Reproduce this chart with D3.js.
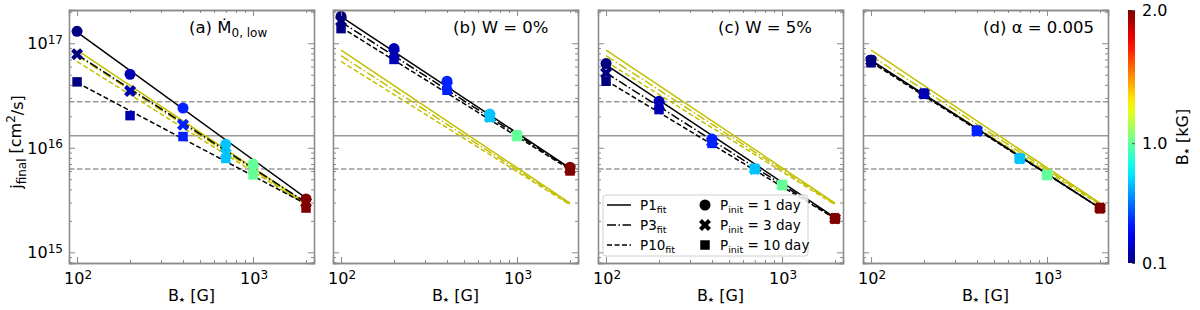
<!DOCTYPE html>
<html>
<head>
<meta charset="utf-8">
<script src="https://cdn.jsdelivr.net/npm/d3@7"></script>
<style>
  body { margin: 0; background: #fff; }
  text { font-family: "DejaVu Sans", sans-serif; fill: #000; }
</style>
</head>
<body>
<svg id="chart" width="1200" height="310"></svg>
<script>
// magnetic field values of the runs [G]
const bStar = [100, 200, 400, 700, 1000, 2000];
const fitB = [100, 2000];

// j_final [cm^2/s] per panel and initial period (P=1, 3, 10 day)
const a_P1 = [1.30e17, 5.05e16, 2.40e16, 1.08e16, 7.0e15, 3.24e15];
const a_P3 = [7.85e16, 3.5e16, 1.66e16, 8.8e15, 6.2e15, 3.0e15];
const a_P10 = [4.27e16, 2.03e16, 1.28e16, 7.9e15, 5.5e15, 2.65e15];
const b_P1 = [1.81e17, 8.9e16, 4.33e16, 2.1e16, 1.32e16, 6.5e15];
const b_P3 = [1.63e17, 7.95e16, 3.87e16, 1.97e16, 1.30e16, 6.25e15];
const b_P10 = [1.38e17, 7.0e16, 3.55e16, 1.95e16, 1.28e16, 6.0e15];
const c_P1 = [6.4e16, 2.78e16, 1.21e16, 6.3e15, 4.4e15, 2.12e15];
const c_P3 = [5.2e16, 2.55e16, 1.15e16, 6.25e15, 4.4e15, 2.1e15];
const c_P10 = [4.33e16, 2.32e16, 1.10e16, 6.2e15, 4.4e15, 2.08e15];
const d_P1 = [6.9e16, 3.3e16, 1.46e16, 7.9e15, 5.5e15, 2.65e15];
const d_P3 = [6.8e16, 3.28e16, 1.45e16, 7.9e15, 5.5e15, 2.65e15];
const d_P10 = [6.5e16, 3.25e16, 1.44e16, 7.85e15, 5.45e15, 2.62e15];

// power law fits, values at B = 100 and 2000 G
const a_fit = [[1.28e17, 3.3e15], [7.8e16, 3.0e15], [4.2e16, 2.9e15]];
const b_fit = [[1.8e17, 6.4e15], [1.6e17, 6.3e15], [1.42e17, 6.2e15]];
const c_fit = [[6.2e16, 2.15e15], [5.2e16, 2.12e15], [4.4e16, 2.1e15]];
const d_fit = [[6.9e16, 2.65e15], [6.8e16, 2.65e15], [6.6e16, 2.65e15]];
// reference fits (yellow) shown in every panel
const refFit = [[8.6e16, 2.95e15], [7.6e16, 2.9e15], [6.7e16, 2.85e15]];

// horizontal guide lines
const hSolid = [1.3e16];
const hDashed = [2.75e16, 6.25e15];

const xMajor = [100, 1000];
const xMinor = [200, 300, 400, 500, 600, 700, 800, 900, 2000];
const yMajor = [1e15, 1e16, 1e17];
const yMinor = [8e14, 9e14, 2e15, 3e15, 4e15, 5e15, 6e15, 7e15, 8e15, 9e15,
  2e16, 3e16, 4e16, 5e16, 6e16, 7e16, 8e16, 9e16, 2e17];
const cbTicks = [0.1, 1.0, 2.0];
const cbRange = [0.1, 2.0];

const panels = [
  { id: "a", x0: 69, series: [a_P1, a_P3, a_P10], fits: a_fit },
  { id: "b", x0: 333, series: [b_P1, b_P3, b_P10], fits: b_fit },
  { id: "c", x0: 598, series: [c_P1, c_P3, c_P10], fits: c_fit },
  { id: "d", x0: 863, series: [d_P1, d_P3, d_P10], fits: d_fit },
];

const pw = 245, plotTop = 10, plotBottom = 263;
const svg = d3.select("#chart");
const frameColor = "#8a8a8a";
const yellow = "#c2c000";
const dashes = [null, "9,2.5,1.5,2.5", "5,2.5"];

// jet colormap
const clamp = (v) => Math.max(0, Math.min(1, v));
const jet = (t) => d3.rgb(
  255 * clamp(1.5 - Math.abs(4 * t - 3)),
  255 * clamp(1.5 - Math.abs(4 * t - 2)),
  255 * clamp(1.5 - Math.abs(4 * t - 1))
).formatHex();
const cNorm = d3.scaleLinear().domain(cbRange).range([0, 1]).clamp(true);
const colorOf = (b) => jet(cNorm(b / 1000));

const symbols = [
  { type: d3.symbolCircle, size: 95, rot: 0 },
  { type: d3.symbolCross, size: 90, rot: 45 },
  { type: d3.symbolSquare, size: 90, rot: 0 },
];

function powLabel(sel, exp) {
  sel.text(null);
  sel.append("tspan").text("10");
  sel.append("tspan").attr("dy", "-0.45em").style("font-size", "12px").text(exp);
}

function starLabel(sel, unit) {
  sel.append("tspan").text("B");
  sel.append("tspan").attr("dy", "0.2em").style("font-size", "7px").text("★");
  sel.append("tspan").attr("dy", "-0.1em").text(" " + unit);
}

panels.forEach((p, pi) => {
  const x = d3.scaleLog().domain([90, 2220]).range([p.x0, p.x0 + pw]);
  const y = d3.scaleLog().domain([7.9e14, 2.08e17]).range([plotBottom, plotTop]);
  const g = svg.append("g");
  const line = d3.line().x((d) => x(d[0])).y((d) => y(d[1]));

  g.append("defs").append("clipPath").attr("id", "clip" + p.id)
    .append("rect").attr("x", p.x0).attr("y", plotTop).attr("width", pw).attr("height", plotBottom - plotTop);
  const plot = g.append("g").attr("clip-path", `url(#clip${p.id})`);

  // guide lines
  plot.selectAll(".hs").data(hSolid).enter().append("line")
    .attr("x1", p.x0).attr("x2", p.x0 + pw).attr("y1", (d) => y(d)).attr("y2", (d) => y(d))
    .attr("stroke", "#999").attr("stroke-width", 1.5);
  plot.selectAll(".hd").data(hDashed).enter().append("line")
    .attr("x1", p.x0).attr("x2", p.x0 + pw).attr("y1", (d) => y(d)).attr("y2", (d) => y(d))
    .attr("stroke", "#999").attr("stroke-width", 1.5).attr("stroke-dasharray", "5.5,2.5");

  // yellow reference fits
  refFit.forEach((f, i) => {
    plot.append("path").datum(fitB.map((b, k) => [b, f[k]]))
      .attr("d", line).attr("fill", "none").attr("stroke", yellow).attr("stroke-width", 1.5)
      .attr("stroke-dasharray", dashes[i]);
  });
  // black fits of this panel
  p.fits.forEach((f, i) => {
    plot.append("path").datum(fitB.map((b, k) => [b, f[k]]))
      .attr("d", line).attr("fill", "none").attr("stroke", "#000").attr("stroke-width", 1.5)
      .attr("stroke-dasharray", dashes[i]);
  });

  // markers
  p.series.forEach((s, i) => {
    const sym = symbols[i];
    plot.selectAll(".m" + i).data(s.map((v, k) => [bStar[k], v])).enter().append("path")
      .attr("d", d3.symbol().type(sym.type).size(sym.size))
      .attr("transform", (d) => `translate(${x(d[0])},${y(d[1])}) rotate(${sym.rot})`)
      .attr("fill", (d) => colorOf(d[0]));
  });

  // frame + inward ticks on all sides
  const axes = [
    [d3.axisBottom, x, xMajor, xMinor, `translate(0,${plotBottom})`],
    [d3.axisTop, x, xMajor, xMinor, `translate(0,${plotTop})`],
    [d3.axisLeft, y, yMajor, yMinor, `translate(${p.x0},0)`],
    [d3.axisRight, y, yMajor, yMinor, `translate(${p.x0 + pw},0)`],
  ];
  axes.forEach(([ax, sc, maj, min, tr]) => {
    const gm = g.append("g").attr("transform", tr)
      .call(ax(sc).tickValues(min).tickSize(-3).tickFormat(""));
    const gM = g.append("g").attr("transform", tr)
      .call(ax(sc).tickValues(maj).tickSize(-6).tickFormat(""));
    [gm, gM].forEach((gg) => {
      gg.select(".domain").attr("stroke", frameColor).attr("stroke-width", 1.3);
      gg.selectAll(".tick line").attr("stroke", frameColor).attr("stroke-width", 1);
      gg.selectAll("text").remove();
    });
  });

  // tick labels
  g.selectAll(".xl").data(xMajor).enter().append("text")
    .attr("x", (d) => x(d) + 1).attr("y", 284).attr("text-anchor", "middle")
    .style("font-size", "16px")
    .each(function (d) { powLabel(d3.select(this), Math.round(Math.log10(d))); });
  if (pi === 0) {
    g.selectAll(".yl").data(yMajor).enter().append("text")
      .attr("x", p.x0 - 6).attr("y", (d) => y(d) + 6).attr("text-anchor", "end")
      .style("font-size", "16px")
      .each(function (d) { powLabel(d3.select(this), Math.round(Math.log10(d))); });
  }

  // x label
  g.append("text").attr("x", p.x0 + pw / 2).attr("y", 301)
    .attr("text-anchor", "middle").style("font-size", "16px")
    .call((s) => starLabel(s, "[G]"));

  // panel title
  const t = g.append("text").attr("x", p.x0 + 0.49 * pw).attr("y", 33).style("font-size", "16.5px");
  if (p.id === "a") {
    t.append("tspan").text("(a) Ṁ");
    t.append("tspan").attr("dy", "0.3em").style("font-size", "12px").text("0, low");
  } else if (p.id === "b") {
    t.text("(b) W = 0%");
  } else if (p.id === "c") {
    t.text("(c) W = 5%");
  } else {
    t.text("(d) α = 0.005");
  }

  // legend in panel (c)
  if (p.id === "c") {
    const lg = g.append("g");
    lg.append("rect").attr("x", 603).attr("y", 195).attr("width", 205).attr("height", 61)
      .attr("rx", 3).attr("fill", "#fff").attr("fill-opacity", 0.85)
      .attr("stroke", "#d0d0d0").attr("stroke-width", 1);
    const rows = [205, 225, 245];
    const fitNames = ["P1", "P3", "P10"];
    const pNames = ["1", "3", "10"];
    rows.forEach((ry, i) => {
      lg.append("line").attr("x1", 607).attr("x2", 631).attr("y1", ry).attr("y2", ry)
        .attr("stroke", "#000").attr("stroke-width", 1.5).attr("stroke-dasharray", dashes[i]);
      const tx = lg.append("text").attr("x", 640).attr("y", ry + 5).style("font-size", "13.5px");
      tx.append("tspan").text(fitNames[i]);
      tx.append("tspan").attr("dy", "0.3em").style("font-size", "9.5px").text("fit");
      const sym = symbols[i];
      lg.append("path").attr("d", d3.symbol().type(sym.type).size(sym.size))
        .attr("transform", `translate(705,${ry}) rotate(${sym.rot})`).attr("fill", "#000");
      const tp = lg.append("text").attr("x", 720).attr("y", ry + 5).style("font-size", "13.5px");
      tp.append("tspan").text("P");
      tp.append("tspan").attr("dy", "0.3em").style("font-size", "9.5px").text("init");
      tp.append("tspan").attr("dy", "-0.2em").text(` = ${pNames[i]} day`);
    });
  }
});

// y label
const yl = svg.append("text").attr("transform", "translate(22,142) rotate(-90)")
  .attr("text-anchor", "middle").style("font-size", "16px");
yl.append("tspan").text("j");
yl.append("tspan").attr("dy", "0.3em").style("font-size", "12px").text("final");
yl.append("tspan").attr("dy", "-0.3em").text(" [cm");
yl.append("tspan").attr("dy", "-0.45em").style("font-size", "12px").text("2");
yl.append("tspan").attr("dy", "0.45em").text("/s]");

// colorbar
const cbx = 1128, cbw = 7;
const cy = d3.scaleLinear().domain(cbRange).range([plotBottom, plotTop]);
const grad = svg.append("defs").append("linearGradient").attr("id", "jet")
  .attr("x1", 0).attr("y1", 1).attr("x2", 0).attr("y2", 0);
d3.range(0, 1.0001, 0.05).forEach((t) => {
  grad.append("stop").attr("offset", t).attr("stop-color", jet(t));
});
svg.append("rect").attr("x", cbx).attr("y", plotTop).attr("width", cbw).attr("height", plotBottom - plotTop)
  .attr("fill", "url(#jet)");
const cbAxis = svg.append("g").attr("transform", `translate(${cbx + cbw},0)`)
  .call(d3.axisRight(cy).tickValues(cbTicks).tickSize(-3).tickPadding(7).tickFormat(d3.format(".1f")));
cbAxis.select(".domain").remove();
cbAxis.selectAll(".tick line").attr("stroke", "#555");
cbAxis.selectAll(".tick text").style("font-size", "16px").attr("font-family", "DejaVu Sans").attr("fill", "#000");
svg.append("text").attr("transform", "translate(1188,137) rotate(-90)")
  .attr("text-anchor", "middle").style("font-size", "16px")
  .call((s) => starLabel(s, "[kG]"));
</script>
</body>
</html>
